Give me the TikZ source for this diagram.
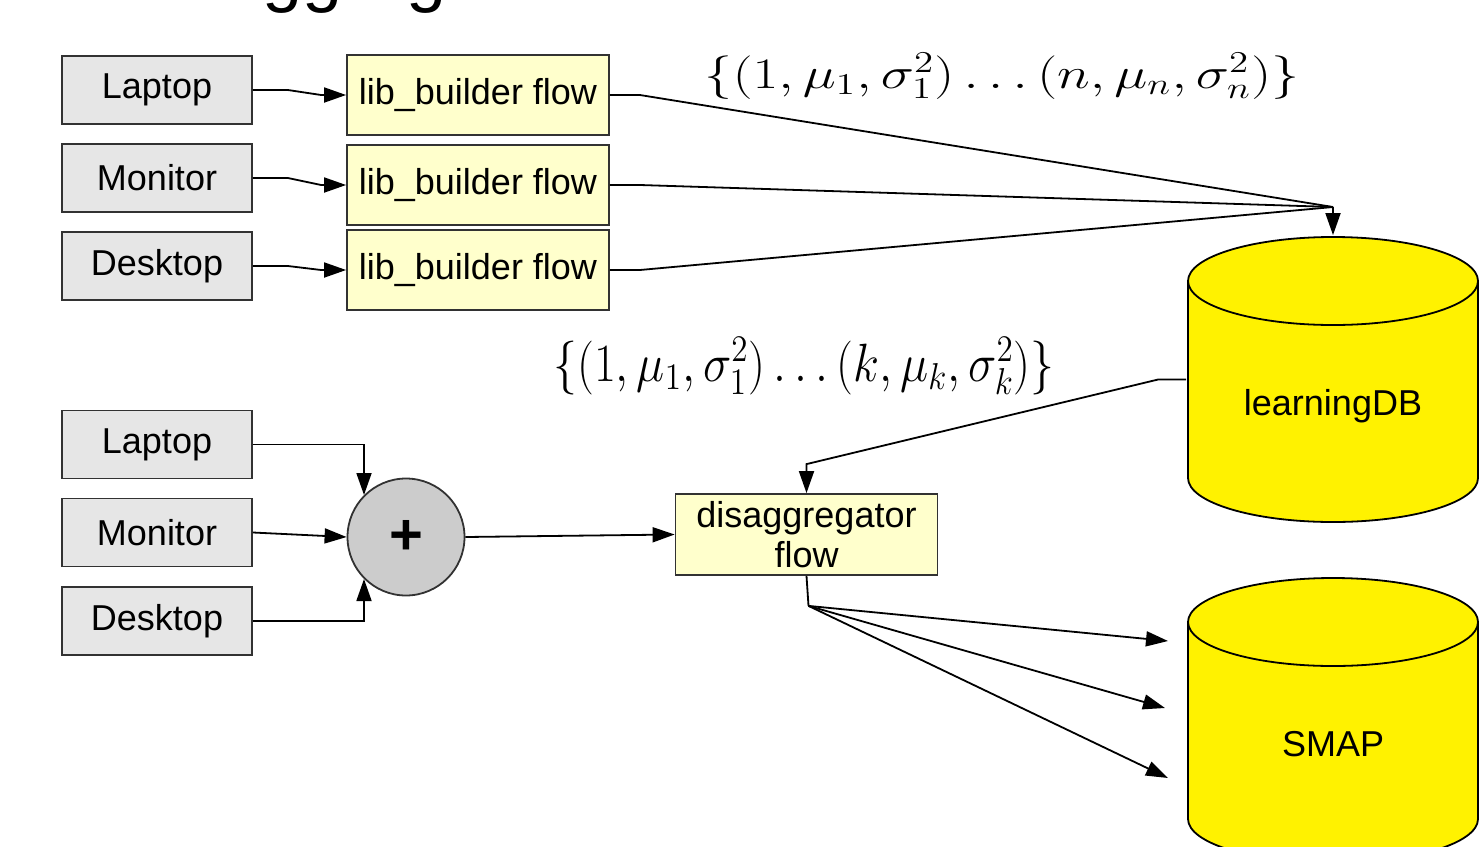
\documentclass[tikz,border=0pt]{standalone}
\usepackage{fontspec}
\setmainfont{Liberation Sans}
\usepackage{tikz}
\usetikzlibrary{arrows.meta, positioning}
\tikzset{>={Triangle[length=22pt,width=15pt]}}
\definecolor{devgray}{RGB}{230,230,230}
\definecolor{flowyellow}{RGB}{255,255,204}
\definecolor{sumgray}{RGB}{204,204,204}
\definecolor{edgegray}{RGB}{50,50,50}
\tikzset{
  device/.style={draw=edgegray, fill=devgray, minimum width=190pt, minimum height=68pt, inner sep=0pt},
  flowbox/.style={draw=edgegray, fill=flowyellow, minimum width=262pt, minimum height=80pt, inner sep=0pt, align=center},
  drum/.style={minimum width=292pt, minimum height=287pt, inner sep=0pt, text height=72pt, text depth=0pt,
    path picture={
      \filldraw[fill=yellow, draw=black, line width=1.8pt]
        ([shift={(1pt,-45pt)}]path picture bounding box.north west)
        -- ([shift={(1pt,45pt)}]path picture bounding box.south west)
        arc[start angle=180, end angle=360, x radius=145pt, y radius=44pt]
        -- ([shift={(-1pt,-45pt)}]path picture bounding box.north east)
        arc[start angle=0, end angle=180, x radius=145pt, y radius=44pt] -- cycle;
      \draw[line width=1.8pt] ([shift={(1pt,-45pt)}]path picture bounding box.north west)
        arc[start angle=180, end angle=360, x radius=145pt, y radius=44pt];
    }},
  params/.style={font=\fontsize{20}{24}\selectfont},
}

\begin{document}
\begin{tikzpicture}[x=1pt, y=-1pt, line width=1.8pt, font=\fontsize{36}{40}\selectfont]
\useasboundingbox (0,0) rectangle (1482,846);
\clip (0,0) rectangle (1482,846);
\node[anchor=base west, font=\fontsize{72}{72}\selectfont] (title) at (114,-2) {Disaggregation};

% learning part
\node[device] (lap1) at (157,90) {Laptop};
\node[device] (mon1) at (157,178) {Monitor};
\node[device] (desk1) at (157,266) {Desktop};
\node[flowbox] (lib1) at (478,95) {lib\_builder flow};
\node[flowbox] (lib2) at (478,185) {lib\_builder flow};
\node[flowbox] (lib3) at (478,270) {lib\_builder flow};
\node[drum] (ldb) at (1333,379.5) {learningDB};
\coordinate (jn) at (1333,207);
\node[params, xscale=2.7, yscale=2.1] (gmm1) at (1002,76) {$\{(1,\mu_1,\sigma_1^2)\ldots(n,\mu_n,\sigma_n^2)\}$};

\foreach \d/\l in {lap1/lib1, mon1/lib2, desk1/lib3}
  \draw[->] (\d.east) -- ++(35,0) -- ([xshift=-25pt]\l.west) -- (\l.west);
\foreach \l in {lib1,lib2,lib3}
  \draw (\l.east) -- ++(30,0) -- (jn);
\draw[->] (jn) -- (ldb.north);

% disaggregation part
\node[device] (lap2) at (157,444.5) {Laptop};
\node[device] (mon2) at (157,532.5) {Monitor};
\node[device] (desk2) at (157,621) {Desktop};
\node[circle, draw=edgegray, fill=sumgray, minimum size=117pt, inner sep=0pt, font=\fontsize{58}{58}\bfseries] (sum) at (406,537) {+};
\node[flowbox, minimum height=81pt] (dis) at (806.5,534.5) {disaggregator\\flow};
\node[drum] (smap) at (1333,720.5) {SMAP};
\node[params, xscale=2.3, yscale=2.6] (gmm2) at (804,366) {$\{(1,\mu_1,\sigma_1^2)\ldots(k,\mu_k,\sigma_k^2)\}$};

\draw[->] (lap2.east) -| (sum.north west);
\draw[->] (mon2.east) -- (sum.west);
\draw[->] (desk2.east) -| (sum.south west);
\draw[->] (sum.east) -- (dis.west);
\draw[->] (ldb.west) -- ++(-28,0) -- ([yshift=29pt]dis.north) -- (dis.north);
\draw (dis.south) -- ++(2,30) coordinate (fan);
\coordinate (s1) at (1168,641);
\coordinate (s2) at (1165,708);
\coordinate (s3) at (1168,778);
\foreach \s in {s1,s2,s3}
  \draw[->] (fan) -- (\s);
\end{tikzpicture}
\end{document}
